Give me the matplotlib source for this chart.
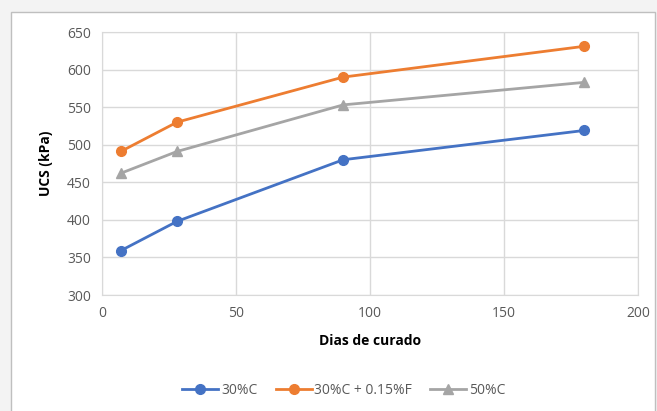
import matplotlib.pyplot as plt
from matplotlib.patches import Rectangle

dias = [7, 28, 90, 180]
ucs_30c = [359, 398, 480, 519]
ucs_30c_f = [491, 530, 590, 631]
ucs_50c = [462, 491, 553, 583]
series = ["30%C", "30%C + 0.15%F", "50%C"]

plt.rcParams['font.family'] = ['Open Sans', 'DejaVu Sans']

fig = plt.figure(figsize=(6.57, 4.11), dpi=100)
fig.patch.set_facecolor('#f3f3f3')

# chart area box, kept behind the axes
box = Rectangle((11 / 657, -0.01), 644 / 657, 1 - 12 / 411 + 0.01, transform=fig.transFigure,
                facecolor='white', edgecolor='#bfbfbf', linewidth=1, zorder=-5)
fig.patches.append(box)

ax = fig.add_axes([102 / 657, 1 - 295 / 411, 536 / 657, 263 / 411])
ax.set_facecolor('white')
ax.set_zorder(2)

ax.plot(dias, ucs_30c, color='#4472C4', marker='o', markersize=7, linewidth=2, label=series[0], zorder=3)
ax.plot(dias, ucs_30c_f, color='#ED7D31', marker='o', markersize=7, linewidth=2, label=series[1], zorder=3)
ax.plot(dias, ucs_50c, color='#A5A5A5', marker='^', markersize=7, linewidth=2, label=series[2], zorder=3)

ax.set_xlim(0, 200)
ax.set_ylim(300, 650)
ax.set_xticks(range(0, 201, 50))
ax.set_yticks(range(300, 651, 50))
ax.grid(True, color='#d9d9d9', linewidth=1)
ax.set_axisbelow(True)
for s in ax.spines.values():
    s.set_color('#d9d9d9')
ax.tick_params(length=0, labelsize=10, labelcolor='#595959', pad=8)

ax.set_xlabel("Dias de curado", fontsize=10, fontweight='bold', labelpad=9)
ax.set_ylabel("UCS (kPa)", fontsize=10, fontweight='bold', labelpad=10)

fig.legend(loc='center', bbox_to_anchor=(344 / 657, 1 - 390 / 411), ncol=3, frameon=False,
           fontsize=10, handlelength=2.6, columnspacing=1.3, handletextpad=0.2,
           labelcolor='#595959')

fig.savefig('out.png', dpi=100, facecolor=fig.get_facecolor())
